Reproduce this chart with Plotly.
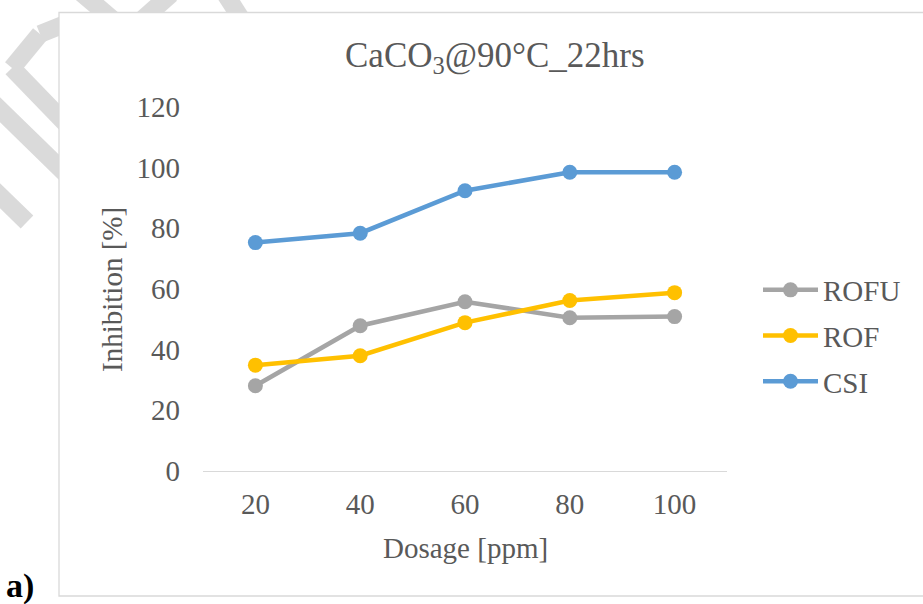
import plotly.graph_objects as go

# ---- data ----
dosage = ["20", "40", "60", "80", "100"]
rofu = [28.1, 47.9, 55.8, 50.5, 50.9]
rof = [34.9, 38.0, 48.9, 56.2, 58.8]
csi = [75.3, 78.4, 92.4, 98.5, 98.5]
y_ticks = [0, 20, 40, 60, 80, 100, 120]

W, H = 923, 604
L, R, T, B = 203, 196, 107, 133
PW, PH = W - L - R, H - T - B


def px(x):
    return (x - L) / PW


def py(y):
    return (H - B - y) / PH


FONT = "Liberation Serif"
TXT = "#595959"
WM = "#dadada"

fig = go.Figure()
series = [("ROFU", rofu, "#A5A5A5"), ("ROF", rof, "#FFC000"), ("CSI", csi, "#5B9BD5")]
for name, vals, col in series:
    fig.add_trace(go.Scatter(
        x=dosage, y=vals, name=name, mode="lines+markers",
        line=dict(color=col, width=4.5),
        marker=dict(color=col, size=15),
        legendgroup=name,
    ))

shapes = []
# watermark strokes (partially visible outside the chart box)
wm_lines = [
    ((70, 22), (40, 34)), ((40, 34), (12, 68)),   # curved upper arm
    ((12, 68), (70, 128)),                         # lower arm
    ((-10, 100), (70, 178)),
    ((-10, 186), (27, 222)),
    ((78, -10), (118, 24)),
    ((171, -6), (135, 26)),
    ((224, -8), (242, 20)),
]
for (x0, y0), (x1, y1) in wm_lines:
    shapes.append(dict(type="line", xref="paper", yref="paper", layer="below",
                       x0=px(x0), y0=py(y0), x1=px(x1), y1=py(y1),
                       line=dict(color=WM, width=18)))
# chart box
shapes.append(dict(type="rect", xref="paper", yref="paper", layer="below",
                   x0=px(59), y0=py(596), x1=px(940), y1=py(12.5),
                   fillcolor="white", line=dict(color="#d9d9d9", width=1.3)))

annotations = [
    dict(text="CaCO<sub>3</sub>@90°C_22hrs", x=px(495), y=py(57), xref="paper", yref="paper",
         showarrow=False, xanchor="center", yanchor="middle",
         font=dict(family=FONT, size=35, color=TXT)),
    dict(text="Inhibition [%]", x=px(112), y=py(290), xref="paper", yref="paper",
         showarrow=False, textangle=-90, xanchor="center", yanchor="middle",
         font=dict(family=FONT, size=29, color=TXT)),
    dict(text="Dosage [ppm]", x=px(465), y=py(548), xref="paper", yref="paper",
         showarrow=False, xanchor="center", yanchor="middle",
         font=dict(family=FONT, size=29, color=TXT)),
    dict(text="<b>a)</b>", x=px(20), y=py(586), xref="paper", yref="paper",
         showarrow=False, xanchor="center", yanchor="middle",
         font=dict(family=FONT, size=34, color="black")),
]

fig.update_layout(
    width=W, height=H,
    margin=dict(l=L, r=R, t=T, b=B, pad=0),
    paper_bgcolor="white", plot_bgcolor="rgba(0,0,0,0)",
    font=dict(family=FONT, size=29, color=TXT),
    showlegend=True,
    legend=dict(x=px(758), y=py(336), xanchor="left", yanchor="middle",
                font=dict(family=FONT, size=29, color=TXT),
                bgcolor="rgba(0,0,0,0)", tracegroupgap=5, itemwidth=55,
                traceorder="grouped"),
    shapes=shapes,
    annotations=annotations,
    xaxis=dict(type="category", categoryorder="array", categoryarray=dosage,
               range=[-0.5, 4.5], showgrid=False, zeroline=False,
               showline=True, linecolor="#d9d9d9", linewidth=1,
               ticks="", ticklabelstandoff=7,
               tickfont=dict(family=FONT, size=29, color=TXT)),
    yaxis=dict(range=[0, 120], tickvals=y_ticks, showgrid=False, zeroline=False,
               showline=False, ticks="", ticklabelstandoff=22,
               tickfont=dict(family=FONT, size=29, color=TXT)),
)

fig.write_html("out.html")
